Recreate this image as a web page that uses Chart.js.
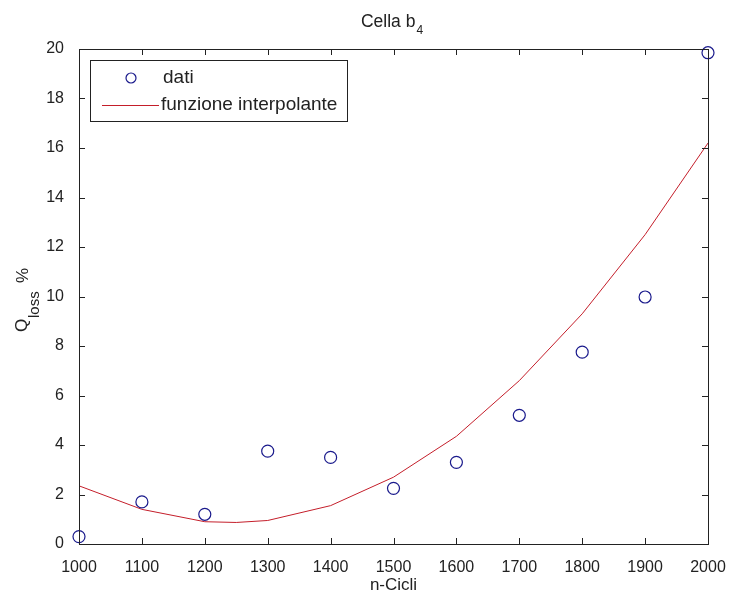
<!DOCTYPE html>
<html>
<head>
<meta charset="utf-8">
<script src="https://cdn.jsdelivr.net/npm/chart.js@4.4.0/dist/chart.umd.min.js"></script>
<style>
  html, body { margin: 0; padding: 0; background: #fff; }
  #wrap { width: 729px; height: 594px; }
</style>
</head>
<body>
<div id="wrap"><canvas id="myChart" width="729" height="594"></canvas></div>
<script>
// measured points
var cycles = [1000, 1100, 1200, 1300, 1400, 1500, 1600, 1700, 1800, 1900, 2000];
var qloss = [0.3, 1.7, 1.2, 3.75, 3.5, 2.25, 3.3, 5.2, 7.75, 9.98, 19.85];
// fitted curve
var fitX = [1000, 1100, 1200, 1250, 1300, 1400, 1500, 1600, 1700, 1800, 1900, 2000];
var fitY = [2.35, 1.4, 0.9, 0.87, 0.95, 1.55, 2.7, 4.35, 6.6, 9.3, 12.5, 16.2];
var xTicks = [1000, 1100, 1200, 1300, 1400, 1500, 1600, 1700, 1800, 1900, 2000];
var yTicks = [0, 2, 4, 6, 8, 10, 12, 14, 16, 18, 20];

var FONT = '"Liberation Sans", Arial, sans-serif';
var INK = '#222';
var BLUE = '#1a1a8c';
var RED = '#c41e2a';

var toPts = function (xs, ys) { return xs.map(function (x, i) { return { x: x, y: ys[i] }; }); };

// box, inner ticks, legend, title, y label
var matlabLook = {
  id: 'matlabLook',
  afterDraw: function (chart) {
    var c = chart.ctx, a = chart.chartArea;
    var xs = chart.scales.x, ys = chart.scales.y;
    c.save();
    c.strokeStyle = INK;
    c.lineWidth = 1;
    c.strokeRect(Math.round(a.left) + 0.5, Math.round(a.top) + 0.5, Math.round(a.right - a.left), Math.round(a.bottom - a.top));
    c.beginPath();
    xTicks.forEach(function (v) {
      var px = Math.round(xs.getPixelForValue(v)) + 0.5;
      c.moveTo(px, a.bottom); c.lineTo(px, a.bottom - 6);
      c.moveTo(px, a.top); c.lineTo(px, a.top + 6);
    });
    yTicks.forEach(function (v) {
      var py = Math.round(ys.getPixelForValue(v)) + 0.5;
      c.moveTo(a.left, py); c.lineTo(a.left + 6, py);
      c.moveTo(a.right, py); c.lineTo(a.right - 6, py);
    });
    c.stroke();

    // legend
    var lx = Math.round(a.left) + 11, ly = Math.round(a.top) + 11, lw = 257, lh = 61;
    c.fillStyle = '#fff';
    c.fillRect(lx, ly, lw, lh);
    c.strokeRect(lx + 0.5, ly + 0.5, lw, lh);
    var ds = chart.data.datasets;
    c.strokeStyle = BLUE;
    c.lineWidth = 1.2;
    c.beginPath(); c.arc(lx + 41, ly + 18, 5, 0, Math.PI * 2); c.stroke();
    c.strokeStyle = RED;
    c.lineWidth = 1;
    c.beginPath(); c.moveTo(lx + 12, ly + 45.5); c.lineTo(lx + 69, ly + 45.5); c.stroke();
    c.fillStyle = INK;
    c.font = '19px ' + FONT;
    c.textBaseline = 'middle';
    c.textAlign = 'left';
    c.fillText(ds[0].label, lx + 73, ly + 18);
    c.fillText(ds[1].label, lx + 71, ly + 45);

    // title with subscript
    var cx = (a.left + a.right) / 2;
    c.textBaseline = 'alphabetic';
    c.font = '17.5px ' + FONT;
    var t1 = 'Cella b', w1 = c.measureText(t1).width;
    c.font = '12px ' + FONT;
    var w2 = c.measureText('4').width;
    var tx = cx - (w1 + w2) / 2 - 2;
    c.font = '17.5px ' + FONT;
    c.fillText(t1, tx, 27);
    c.font = '12px ' + FONT;
    c.fillText('4', tx + w1 + 1, 34);

    // y label with subscript
    c.translate(0, 300);
    c.rotate(-Math.PI / 2);
    c.font = '17px ' + FONT;
    c.fillText('Q', -32, 27);
    c.font = '15px ' + FONT;
    c.fillText('loss', -18, 39);
    c.font = '17px ' + FONT;
    c.fillText('%', 17, 28);
    c.restore();
  }
};

var ctx = document.getElementById('myChart');
var myChart = new Chart(ctx, {
  type: 'scatter',
  data: {
    datasets: [
      {
        label: 'dati',
        data: toPts(cycles, qloss),
        showLine: false,
        pointStyle: 'circle',
        pointRadius: 6,
        pointHoverRadius: 6,
        pointBorderWidth: 1.2,
        borderColor: BLUE,
        backgroundColor: 'rgba(0,0,0,0)',
        clip: false,
        order: 0
      },
      {
        label: 'funzione interpolante',
        data: toPts(fitX, fitY),
        showLine: true,
        borderColor: RED,
        borderWidth: 1,
        pointRadius: 0,
        tension: 0,
        fill: false,
        order: 1
      }
    ]
  },
  options: {
    responsive: false,
    animation: false,
    events: [],
    layout: { padding: { top: 49, right: 21, left: 0, bottom: 0 } },
    plugins: {
      legend: { display: false },
      title: { display: false },
      tooltip: { enabled: false }
    },
    scales: {
      x: {
        type: 'linear',
        min: 1000, max: 2000,
        afterBuildTicks: function (s) { s.ticks = xTicks.map(function (v) { return { value: v }; }); },
        afterFit: function (s) { s.height = 50; s.paddingLeft = 0; s.paddingRight = 0; },
        grid: { display: false },
        border: { display: false },
        ticks: {
          color: INK, font: { family: FONT, size: 16 }, padding: 6, maxRotation: 0, autoSkip: false,
          callback: function (v) { return String(v); }
        },
        title: { display: true, text: 'n-Cicli', color: INK, font: { family: FONT, size: 17 }, padding: { top: 0, bottom: -2 } }
      },
      y: {
        type: 'linear',
        min: 0, max: 20,
        afterBuildTicks: function (s) { s.ticks = yTicks.map(function (v) { return { value: v }; }); },
        afterFit: function (s) { s.width = 79; },
        grid: { display: false },
        border: { display: false },
        ticks: {
          color: INK, font: { family: FONT, size: 16 }, padding: 7, autoSkip: false,
          callback: function (v) { return String(v); }
        }
      }
    }
  },
  plugins: [matlabLook]
});
</script>
</body>
</html>
